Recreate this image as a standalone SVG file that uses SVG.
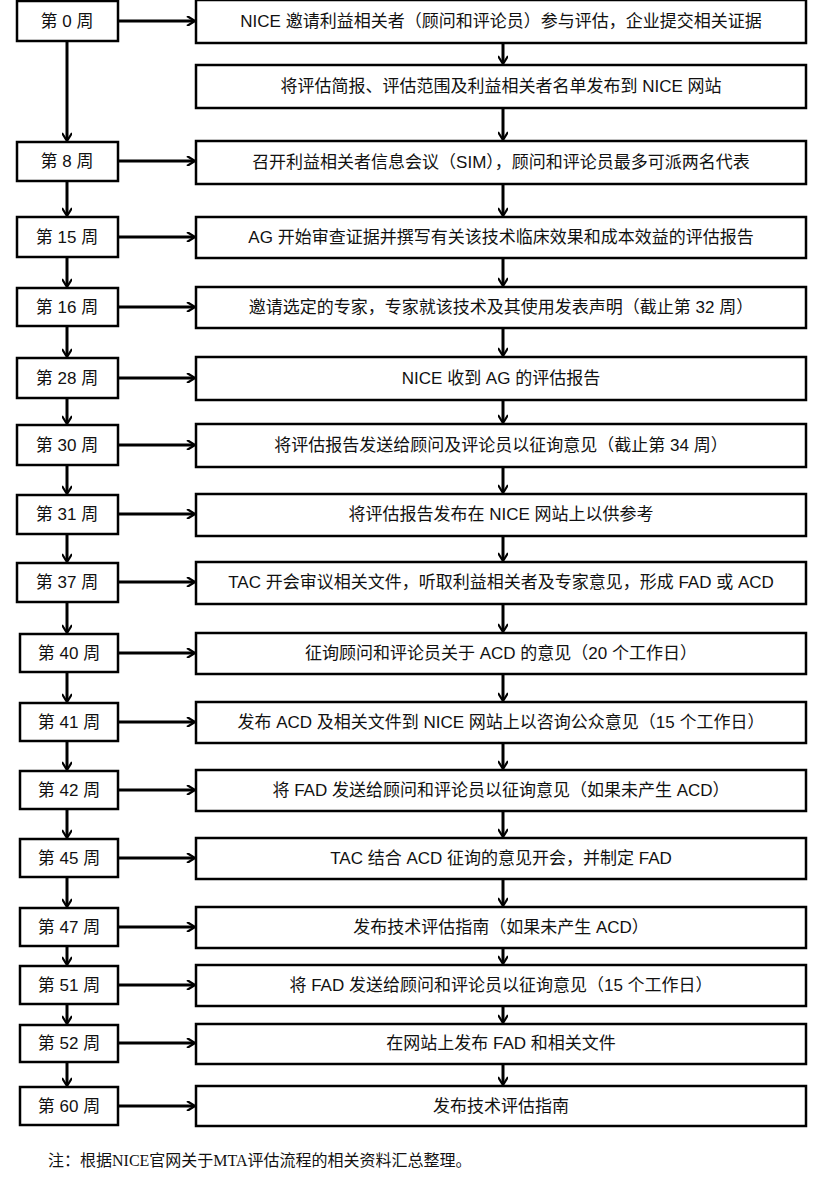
<svg xmlns="http://www.w3.org/2000/svg" width="816" height="1188" viewBox="0 0 816 1188">
<defs><marker id="a" markerWidth="10" markerHeight="10" refX="8" refY="5" orient="auto" markerUnits="userSpaceOnUse" viewBox="0 0 10 10"><path d="M1,0 L9,5 L1,10" fill="none" stroke="#000" stroke-width="2.2"/></marker>
<style>rect{fill:#fff;stroke:#000;stroke-width:2.5}text{font-family:"Liberation Sans","Noto Sans CJK SC",sans-serif;font-size:17px;text-anchor:middle;dominant-baseline:central;fill:#111}.c line{stroke:#000;stroke-width:3;marker-end:url(#a)}</style></defs>
<rect width="816" height="1188" style="fill:#fff;stroke:none"/>
<g class="c">
<line x1="67" y1="41" x2="67" y2="140"/><line x1="67" y1="181" x2="67" y2="215"/><line x1="67" y1="257" x2="67" y2="286"/><line x1="67" y1="326" x2="67" y2="356"/><line x1="67" y1="398" x2="67" y2="423"/><line x1="67" y1="465" x2="67" y2="493"/><line x1="67" y1="534" x2="67" y2="561"/><line x1="67" y1="602" x2="67" y2="632"/><line x1="67" y1="672" x2="67" y2="701"/><line x1="67" y1="741" x2="67" y2="769"/><line x1="67" y1="809" x2="67" y2="837"/><line x1="67" y1="877" x2="67" y2="906"/><line x1="67" y1="946" x2="67" y2="964"/><line x1="67" y1="1004" x2="67" y2="1023"/><line x1="67" y1="1062" x2="67" y2="1085"/>
<line x1="118" y1="21" x2="194" y2="21"/><line x1="118" y1="161" x2="194" y2="161"/><line x1="118" y1="237" x2="194" y2="237"/><line x1="118" y1="307" x2="194" y2="307"/><line x1="118" y1="378" x2="194" y2="378"/><line x1="118" y1="445" x2="194" y2="445"/><line x1="118" y1="514" x2="194" y2="514"/><line x1="118" y1="582" x2="194" y2="582"/><line x1="118" y1="653" x2="194" y2="653"/><line x1="118" y1="722" x2="194" y2="722"/><line x1="118" y1="790" x2="194" y2="790"/><line x1="118" y1="858" x2="194" y2="858"/><line x1="118" y1="927" x2="194" y2="927"/><line x1="118" y1="985" x2="194" y2="985"/><line x1="118" y1="1043" x2="194" y2="1043"/><line x1="118" y1="1106" x2="194" y2="1106"/>
<line x1="503" y1="43" x2="503" y2="63"/><line x1="503" y1="108" x2="503" y2="139"/><line x1="503" y1="184" x2="503" y2="215"/><line x1="503" y1="258" x2="503" y2="285"/><line x1="503" y1="328" x2="503" y2="355"/><line x1="503" y1="400" x2="503" y2="422"/><line x1="503" y1="467" x2="503" y2="492"/><line x1="503" y1="536" x2="503" y2="560"/><line x1="503" y1="604" x2="503" y2="631"/><line x1="503" y1="674" x2="503" y2="700"/><line x1="503" y1="743" x2="503" y2="768"/><line x1="503" y1="811" x2="503" y2="836"/><line x1="503" y1="879" x2="503" y2="905"/><line x1="503" y1="948" x2="503" y2="963"/><line x1="503" y1="1006" x2="503" y2="1022"/><line x1="503" y1="1064" x2="503" y2="1084"/>
</g>
<g id="w0"><rect x="17" y="1" width="101" height="40"/><text x="67" y="21">第 0 周</text></g>
<g id="w8"><rect x="17" y="142" width="101" height="39"/><text x="67" y="161">第 8 周</text></g>
<g id="w15"><rect x="17" y="217" width="101" height="40"/><text x="67" y="237">第 15 周</text></g>
<g id="w16"><rect x="17" y="288" width="101" height="38"/><text x="67" y="307">第 16 周</text></g>
<g id="w28"><rect x="17" y="358" width="101" height="40"/><text x="67" y="378">第 28 周</text></g>
<g id="w30"><rect x="17" y="425" width="101" height="40"/><text x="67" y="445">第 30 周</text></g>
<g id="w31"><rect x="17" y="495" width="101" height="39"/><text x="67" y="514">第 31 周</text></g>
<g id="w37"><rect x="17" y="563" width="101" height="39"/><text x="67" y="582">第 37 周</text></g>
<g id="w40"><rect x="20" y="634" width="98" height="38"/><text x="69" y="653">第 40 周</text></g>
<g id="w41"><rect x="20" y="703" width="98" height="38"/><text x="69" y="722">第 41 周</text></g>
<g id="w42"><rect x="20" y="771" width="98" height="38"/><text x="69" y="790">第 42 周</text></g>
<g id="w45"><rect x="20" y="839" width="98" height="38"/><text x="69" y="858">第 45 周</text></g>
<g id="w47"><rect x="20" y="908" width="98" height="38"/><text x="69" y="927">第 47 周</text></g>
<g id="w51"><rect x="20" y="966" width="98" height="38"/><text x="69" y="985">第 51 周</text></g>
<g id="w52"><rect x="20" y="1025" width="98" height="37"/><text x="69" y="1043">第 52 周</text></g>
<g id="w60"><rect x="20" y="1087" width="98" height="38"/><text x="69" y="1106">第 60 周</text></g>
<g id="s1"><rect x="196" y="0" width="610" height="43"/><text x="501" y="21">NICE 邀请利益相关者（顾问和评论员）参与评估，企业提交相关证据</text></g>
<g id="s2"><rect x="196" y="65" width="610" height="43"/><text x="501" y="86">将评估简报、评估范围及利益相关者名单发布到 NICE 网站</text></g>
<g id="s3"><rect x="196" y="141" width="610" height="43"/><text x="501" y="162">召开利益相关者信息会议（SIM），顾问和评论员最多可派两名代表</text></g>
<g id="s4"><rect x="196" y="217" width="610" height="41"/><text x="501" y="237">AG 开始审查证据并撰写有关该技术临床效果和成本效益的评估报告</text></g>
<g id="s5"><rect x="196" y="287" width="610" height="41"/><text x="501" y="307">邀请选定的专家，专家就该技术及其使用发表声明（截止第 32 周）</text></g>
<g id="s6"><rect x="196" y="357" width="610" height="43"/><text x="501" y="378">NICE 收到 AG 的评估报告</text></g>
<g id="s7"><rect x="196" y="424" width="610" height="43"/><text x="501" y="445">将评估报告发送给顾问及评论员以征询意见（截止第 34 周）</text></g>
<g id="s8"><rect x="196" y="494" width="610" height="42"/><text x="501" y="514">将评估报告发布在 NICE 网站上以供参考</text></g>
<g id="s9"><rect x="196" y="562" width="610" height="42"/><text x="501" y="582">TAC 开会审议相关文件，听取利益相关者及专家意见，形成 FAD 或 ACD</text></g>
<g id="s10"><rect x="196" y="633" width="610" height="41"/><text x="501" y="653">征询顾问和评论员关于 ACD 的意见（20 个工作日）</text></g>
<g id="s11"><rect x="196" y="702" width="610" height="41"/><text x="501" y="722">发布 ACD 及相关文件到 NICE 网站上以咨询公众意见（15 个工作日）</text></g>
<g id="s12"><rect x="196" y="770" width="610" height="41"/><text x="501" y="790">将 FAD 发送给顾问和评论员以征询意见（如果未产生 ACD）</text></g>
<g id="s13"><rect x="196" y="838" width="610" height="41"/><text x="501" y="858">TAC 结合 ACD 征询的意见开会，并制定 FAD</text></g>
<g id="s14"><rect x="196" y="907" width="610" height="41"/><text x="501" y="927">发布技术评估指南（如果未产生 ACD）</text></g>
<g id="s15"><rect x="196" y="965" width="610" height="41"/><text x="501" y="985">将 FAD 发送给顾问和评论员以征询意见（15 个工作日）</text></g>
<g id="s16"><rect x="196" y="1024" width="610" height="40"/><text x="501" y="1043">在网站上发布 FAD 和相关文件</text></g>
<g id="s17"><rect x="196" y="1086" width="610" height="40"/><text x="501" y="1106">发布技术评估指南</text></g>
<text x="48" y="1160" style="text-anchor:start;font-family:'Liberation Serif','Noto Sans CJK SC',serif;font-size:16px">注：根据NICE官网关于MTA评估流程的相关资料汇总整理。</text>
</svg>
